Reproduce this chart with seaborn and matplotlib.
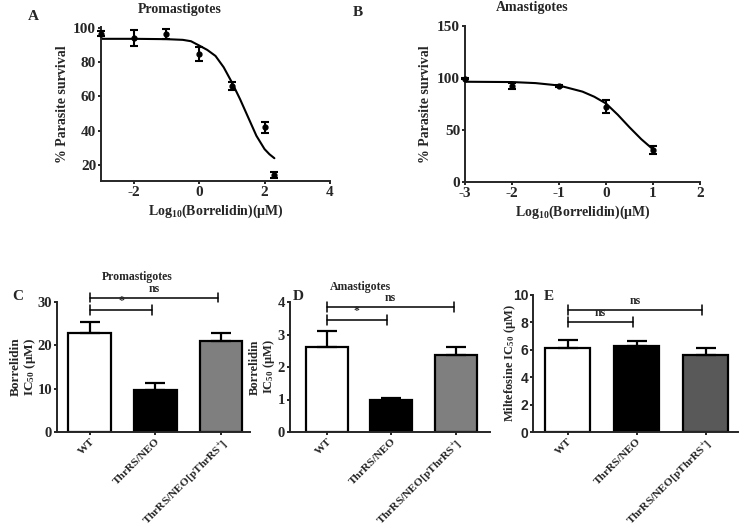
import numpy as np
import pandas as pd
import matplotlib.pyplot as plt
import seaborn as sns

# dose response data
pro_x = [-3, -2, -1, 0, 1, 2, 2.3]
pro_y = [96.5, 94.1, 96.5, 84.8, 66.2, 41.9, 14.1]
pro_err = [1.5, 4.5, 3.0, 4.0, 2.2, 3.0, 1.5]
pro_fit_x = [-3, -2, -1, -0.5, -0.25, 0, 0.25, 0.5, 0.75, 1.0, 1.25, 1.5, 1.75, 2.0, 2.15, 2.3]
pro_fit_y = [93.6, 93.6, 93.4, 93.0, 92.2, 89.7, 87.1, 83.6, 77.0, 68.2, 58.4, 47.7, 37.0, 29.2, 26.2, 23.9]

ama_x = [-3, -2, -1, 0, 1]
ama_y = [99.5, 92.5, 92.0, 72.5, 31.0]
ama_err = [0.5, 3.0, 1.0, 6.0, 4.0]
ama_fit_x = [-3, -2, -1.5, -1, -0.5, -0.25, 0, 0.25, 0.5, 0.75, 1.0]
ama_fit_y = [96.4, 96.1, 95.1, 92.8, 86.9, 82.0, 75.5, 64.7, 52.6, 41.2, 31.4]

# IC50 bar data
groups = ['WT', 'ThrRS/NEO', r'ThrRS/NEO[pThrRS$^{+}$]']
pro_ic50 = [22.8, 9.8, 21.1]
pro_ic50_err = [2.6, 1.4, 1.7]
ama_ic50 = [2.63, 0.97, 2.37]
ama_ic50_err = [0.47, 0.08, 0.26]
milt_ic50 = [6.1, 6.3, 5.6]
milt_ic50_err = [0.65, 0.35, 0.55]

sns.set_style('ticks')
plt.rcParams['font.family'] = ['Liberation Serif', 'DejaVu Serif']
plt.rcParams['font.weight'] = 'bold'
plt.rcParams['axes.labelweight'] = 'bold'
plt.rcParams['axes.unicode_minus'] = False
plt.rcParams['mathtext.fontset'] = 'custom'
plt.rcParams['mathtext.rm'] = 'Liberation Serif:bold'
plt.rcParams['mathtext.it'] = 'Liberation Serif:bold'
plt.rcParams['mathtext.bf'] = 'Liberation Serif:bold'

W, H = 741, 531
fig = plt.figure(figsize=(W / 100, H / 100), dpi=100)


def px_axes(left, right, top, bottom):
    return fig.add_axes([left / W, 1 - bottom / H, (right - left) / W, (bottom - top) / H])


def style(ax, size):
    sns.despine(ax=ax)
    for s in ['left', 'bottom']:
        ax.spines[s].set_linewidth(1.4)
    ax.tick_params(width=1.4, length=2.5, labelsize=size, pad=1)
    for tl in ax.get_xticklabels() + ax.get_yticklabels():
        tl.set_fontweight('bold')


def set_ylabel(ax, text, size, xpos):
    ax.set_ylabel(text, fontsize=size, fontweight='bold', linespacing=1.0)
    ax.yaxis.label.set_va('center')
    ax.yaxis.set_label_coords(xpos, 0.5)


def dose_panel(ax, px, py, perr, fx, fy):
    sns.lineplot(x=fx, y=fy, ax=ax, color='black', linewidth=1.5, sort=False)
    ax.errorbar(px, py, yerr=perr, fmt='o', ms=3.5, color='black',
                capsize=3, elinewidth=1.5, capthick=1.5, clip_on=False, zorder=3)
    ax.set_xlabel(r'Log$_{10}$(Borrelidin)($\mu$M)', fontsize=10, labelpad=3)
    set_ylabel(ax, '% Parasite survival', 10, -0.17)


def bar_panel(ax, vals, errs, colors):
    df = pd.DataFrame({'group': groups, 'ic50': vals})
    sns.barplot(data=df, x='group', y='ic50', hue='group', palette=colors,
                width=0.65, edgecolor='black', linewidth=1.6, legend=False, ax=ax)
    ax.errorbar(range(len(vals)), vals, yerr=[[0] * len(vals), errs], fmt='none',
                ecolor='black', capsize=7, elinewidth=1.6, capthick=1.6)
    ax.set_xlabel('')
    ax.set_xticks(range(len(groups)))
    ax.set_xticklabels(groups, rotation=45, ha='right', rotation_mode='anchor')


def bracket(ax, x1, x2, y, h, text, size=8.5):
    ax.plot([x1, x2], [y, y], color='black', lw=1.1, clip_on=False)
    for x in (x1, x2):
        ax.plot([x, x], [y - h, y + h], color='black', lw=1.1, clip_on=False)
    ax.text((x1 + x2) / 2, y + h * 0.6, text, ha='center', va='bottom',
            fontsize=size, fontweight='bold', clip_on=False)


# A
axA = px_axes(101, 330, 27, 181)
dose_panel(axA, pro_x, pro_y, pro_err, pro_fit_x, pro_fit_y)
axA.set_xlim(-3, 4)
axA.set_ylim(10.6, 100.5)
axA.set_xticks([-2, 0, 2, 4])
axA.set_yticks([20, 40, 60, 80, 100])
style(axA, 11)

# B
axB = px_axes(465, 700, 26, 182)
dose_panel(axB, ama_x, ama_y, ama_err, ama_fit_x, ama_fit_y)
axB.set_xlim(-3, 2)
axB.set_ylim(0, 150)
axB.set_xticks([-3, -2, -1, 0, 1, 2])
axB.set_yticks([0, 50, 100, 150])
style(axB, 11)

# C
axC = px_axes(57, 250, 302, 432)
bar_panel(axC, pro_ic50, pro_ic50_err, ['white', 'black', '#7f7f7f'])
axC.set_xlim(-0.5, 2.44)
axC.set_ylim(0, 30)
axC.set_yticks([0, 10, 20, 30])
style(axC, 10.5)
axC.tick_params(axis='x', labelsize=8.2, pad=1)
set_ylabel(axC, 'Borrelidin\nIC$_{50}$ ($\\mu$M)', 9.5, -0.17)
bracket(axC, 0, 0.95, 28.1, 1.1, '*')
bracket(axC, 0, 1.95, 31.0, 1.1, 'ns')

# D
axD = px_axes(290, 490, 302, 432)
bar_panel(axD, ama_ic50, ama_ic50_err, ['white', 'black', '#7f7f7f'])
axD.set_xlim(-0.57, 2.53)
axD.set_ylim(0, 4)
axD.set_yticks([0, 1, 2, 3, 4])
style(axD, 10.5)
axD.tick_params(axis='x', labelsize=8.2, pad=1)
set_ylabel(axD, 'Borrelidin\nIC$_{50}$ ($\\mu$M)', 9, -0.135)
bracket(axD, 0, 0.93, 3.44, 0.15, '*')
bracket(axD, 0, 1.97, 3.85, 0.15, 'ns')

# E
axE = px_axes(533, 738, 295, 432)
bar_panel(axE, milt_ic50, milt_ic50_err, ['white', 'black', '#595959'])
axE.set_xlim(-0.5, 2.47)
axE.set_ylim(0, 10)
axE.set_yticks([0, 2, 4, 6, 8, 10])
style(axE, 10)
axE.tick_params(axis='x', labelsize=8.2, pad=1)
for tl in axE.get_yticklabels():
    tl.set_family('Liberation Sans')
set_ylabel(axE, 'Miltefosine IC$_{50}$ ($\\mu$M)', 9, -0.11)
bracket(axE, 0, 0.95, 8.05, 0.35, 'ns')
bracket(axE, 0, 1.95, 8.9, 0.35, 'ns')

# titles and panel letters
fig.text(180 / W, 1 - 10 / H, 'Promastigotes', ha='center', va='center', fontsize=10)
fig.text(532 / W, 1 - 8 / H, 'Amastigotes', ha='center', va='center', fontsize=10)
fig.text(137 / W, 1 - 277 / H, 'Promastigotes', ha='center', va='center', fontsize=8.5)
fig.text(360 / W, 1 - 287 / H, 'Amastigotes', ha='center', va='center', fontsize=8.5)
for letter, x, y in [('A', 33, 16), ('B', 358, 13), ('C', 18, 297), ('D', 298, 297), ('E', 549, 297)]:
    fig.text(x / W, 1 - y / H, letter, ha='center', va='center', fontsize=11)

fig.savefig('out.png', dpi=100)
plt.close(fig)
